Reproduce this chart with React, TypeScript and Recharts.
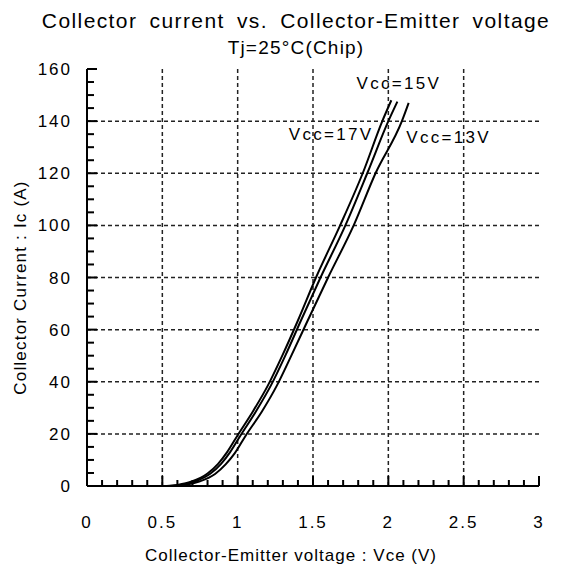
import React from "react";
import {
  LineChart,
  Line,
  XAxis,
  YAxis,
  CartesianGrid,
  ReferenceDot,
} from "recharts";

// Output characteristics
const V_17 = [0.53, 0.6, 0.7, 0.8, 0.87, 0.93, 1.0, 1.1, 1.2, 1.3, 1.4, 1.52, 1.68, 1.83, 1.96, 2.02];
const I_17 = [0, 0.4, 1.8, 4.8, 8.5, 13, 19.5, 28.5, 38.5, 50.5, 63.5, 80, 100, 120, 140, 148];

const V_15 = [0.55, 0.62, 0.72, 0.82, 0.89, 0.95, 1.02, 1.12, 1.22, 1.32, 1.42, 1.55, 1.715, 1.86, 2.0, 2.06];
const I_15 = [0, 0.4, 1.8, 4.8, 8.5, 13, 19.5, 28.5, 38.5, 50.5, 63.5, 80, 100, 120, 140, 147.5];

const V_13 = [0.57, 0.65, 0.75, 0.85, 0.92, 0.98, 1.055, 1.16, 1.26, 1.36, 1.465, 1.6, 1.77, 1.915, 2.09, 2.135];
const I_13 = [0, 0.4, 1.8, 4.6, 8.3, 12.5, 19.5, 28.5, 38.5, 50.5, 63.5, 80, 100, 120, 140, 147];

const X_MAJOR = [0, 0.5, 1, 1.5, 2, 2.5, 3];
const Y_MAJOR = [0, 20, 40, 60, 80, 100, 120, 140, 160];
const X_TICKS = Array.from({ length: 31 }, (_, i) => i / 10);
const Y_TICKS = Array.from({ length: 33 }, (_, i) => i * 5);

const CURVE_LABELS = [
  { text: "Vcc=15V", v: 2.07, i: 154.5 },
  { text: "Vcc=17V", v: 1.62, i: 135 },
  { text: "Vcc=13V", v: 2.4, i: 134 },
];

const zip = (vs: number[], is: number[]) => vs.map((v, k) => ({ v, i: is[k] }));

const FONT = '"Liberation Sans", Arial, sans-serif';

const isMajor = (value: number, list: number[]) =>
  list.some((m) => Math.abs(m - value) < 1e-6);

const XTick = ({ x, y, payload, side }: any) => {
  const major = isMajor(payload.value, X_MAJOR);
  const len = major ? 10 : 6;
  const dir = side === "top" ? 1 : -1;
  return (
    <g>
      <line x1={x} x2={x} y1={y} y2={y + dir * len} stroke="#000" strokeWidth={2} />
      {side === "bottom" && major && (
        <text
          x={x}
          y={y + 42}
          textAnchor="middle"
          fontSize={17}
          fontFamily={FONT}
          style={{ letterSpacing: 2 }}
          fill="#000"
        >
          {String(payload.value)}
        </text>
      )}
    </g>
  );
};

const YTick = ({ x, y, payload, side }: any) => {
  const major = isMajor(payload.value, Y_MAJOR);
  const len = major ? 10 : 7;
  const dir = side === "left" ? 1 : -1;
  return (
    <g>
      <line x1={x} x2={x + dir * len} y1={y} y2={y} stroke="#000" strokeWidth={2} />
      {side === "left" && major && (
        <text
          x={x - 15}
          y={y + 6}
          textAnchor="end"
          fontSize={17}
          fontFamily={FONT}
          style={{ letterSpacing: 2 }}
          fill="#000"
        >
          {payload.value}
        </text>
      )}
    </g>
  );
};

export default function App() {
  return (
    <div
      style={{
        position: "absolute",
        left: 0,
        top: 0,
        width: 565,
        height: 572,
        background: "#fff",
        fontFamily: FONT,
      }}
    >
      <div
        style={{
          position: "absolute",
          left: 0,
          width: 592,
          top: 7,
          textAlign: "center",
          lineHeight: "27px",
          color: "#000",
          whiteSpace: "nowrap",
        }}
      >
        <div style={{ fontSize: 21, letterSpacing: 1.4, wordSpacing: 5 }}>
          Collector current vs. Collector-Emitter voltage
        </div>
        <div style={{ fontSize: 19, letterSpacing: 1.2 }}>Tj=25°C(Chip)</div>
      </div>
      <LineChart
        width={565}
        height={572}
        margin={{ top: 69, right: 26, left: 0, bottom: 0 }}
        style={{ position: "absolute", left: 0, top: 0 }}
      >
        <CartesianGrid
          stroke="#222"
          strokeWidth={1.5}
          strokeDasharray="4 3"
          verticalValues={[0.5, 1, 1.5, 2, 2.5]}
          horizontalValues={[20, 40, 60, 80, 100, 120, 140]}
        />
        <XAxis
          type="number"
          dataKey="v"
          domain={[0, 3]}
          ticks={X_TICKS}
          interval={0}
          height={86}
          tickSize={0}
          tickMargin={0}
          tickLine={false}
          axisLine={{ stroke: "#000", strokeWidth: 2 }}
          tick={<XTick side="bottom" />}
          allowDataOverflow
          label={{
            content: ({ viewBox }: any) => (
              <text
                x={viewBox.x + viewBox.width / 2 - 22}
                y={viewBox.y + 75}
                textAnchor="middle"
                fontSize={17}
                fontFamily={FONT}
                style={{ letterSpacing: 1 }}
                fill="#000"
              >
                Collector-Emitter voltage : Vce (V)
              </text>
            ),
          }}
        />
        <XAxis
          xAxisId="top"
          orientation="top"
          type="number"
          dataKey="v"
          domain={[0, 3]}
          ticks={X_TICKS}
          interval={0}
          height={0}
          tickSize={0}
          tickMargin={0}
          tickLine={false}
          axisLine={{ stroke: "#000", strokeWidth: 2 }}
          tick={<XTick side="top" />}
        />
        <YAxis
          type="number"
          domain={[0, 160]}
          ticks={Y_TICKS}
          interval={0}
          width={87}
          tickSize={0}
          tickMargin={0}
          tickLine={false}
          axisLine={{ stroke: "#000", strokeWidth: 2 }}
          tick={<YTick side="left" />}
          allowDataOverflow
          label={{
            content: ({ viewBox }: any) => {
              const cx = 20;
              const cy = viewBox.y + viewBox.height / 2 + 10;
              return (
                <text
                  x={cx}
                  y={cy}
                  transform={`rotate(-90 ${cx} ${cy})`}
                  textAnchor="middle"
                  dominantBaseline="central"
                  fontSize={17}
                  fontFamily={FONT}
                  style={{ letterSpacing: 1.2 }}
                  fill="#000"
                >
                  Collector Current : Ic (A)
                </text>
              );
            },
          }}
        />
        <YAxis
          yAxisId="right"
          orientation="right"
          type="number"
          domain={[0, 160]}
          ticks={Y_TICKS}
          interval={0}
          width={0}
          tickSize={0}
          tickMargin={0}
          tickLine={false}
          axisLine={{ stroke: "#000", strokeWidth: 2 }}
          tick={<YTick side="right" />}
        />
        <Line
          data={zip(V_17, I_17)}
          dataKey="i"
          type="monotone"
          stroke="#000"
          strokeWidth={2}
          dot={false}
          isAnimationActive={false}
        />
        <Line
          data={zip(V_15, I_15)}
          dataKey="i"
          type="monotone"
          stroke="#000"
          strokeWidth={2}
          dot={false}
          isAnimationActive={false}
        />
        <Line
          data={zip(V_13, I_13)}
          dataKey="i"
          type="monotone"
          stroke="#000"
          strokeWidth={2}
          dot={false}
          isAnimationActive={false}
        />
        {CURVE_LABELS.map((c) => (
          <ReferenceDot
            key={c.text}
            x={c.v}
            y={c.i}
            r={0}
            stroke="none"
            fill="none"
            ifOverflow="visible"
            label={{
              content: ({ viewBox }: any) => (
                <text
                  x={viewBox.x + (viewBox.width || 0) / 2}
                  y={viewBox.y + (viewBox.height || 0) / 2 + 6}
                  textAnchor="middle"
                  fontSize={17}
                  fontFamily={FONT}
                  style={{ letterSpacing: 2.3 }}
                  fill="#000"
                >
                  {c.text}
                </text>
              ),
            }}
          />
        ))}
      </LineChart>
    </div>
  );
}
